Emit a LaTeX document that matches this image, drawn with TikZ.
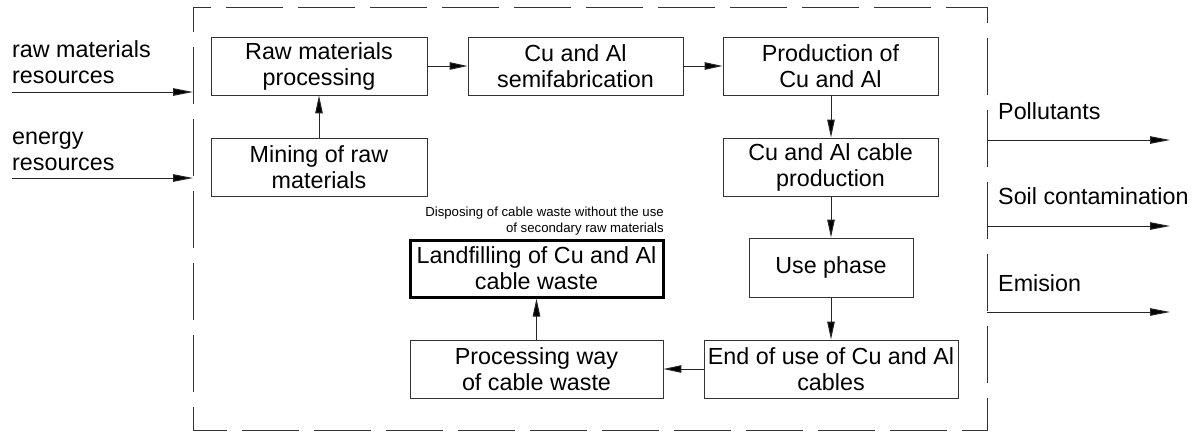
\documentclass[tikz,border=0pt]{standalone}
\usepackage{fontspec}
\setmainfont{Liberation Sans}
\usetikzlibrary{arrows.meta}
\newcommand{\bigfnt}{\fontsize{23.3}{26}\selectfont}
\newcommand{\smallfnt}{\fontsize{13.2}{16}\selectfont}
\begin{document}
\begin{tikzpicture}[x=1pt,y=-1pt,
  box/.style={draw=black!80, line width=0.9pt, inner sep=0pt, align=center, font=\bigfnt},
  thickbox/.style={box, draw=black, line width=3pt},
  lbl/.style={inner sep=0pt, anchor=base west, align=left, font=\bigfnt},
  conn/.style={draw=black!85, line width=1pt, -{Triangle[length=18pt,width=7.5pt,fill=black]}},
  bigconn/.style={conn, -{Triangle[length=20pt,width=7.5pt,fill=black]}},
  frame/.style={draw=black!80, line width=0.9pt, dash pattern=on 57pt off 15pt, dash phase=32pt}]
\useasboundingbox (0,0) rectangle (1203,432);
\draw[frame] (193,7) rectangle (987,430);

\node[box, minimum width=216pt, minimum height=58pt] (rmp) at (319,66) {Raw materials\\processing};
\node[box, minimum width=216pt, minimum height=58pt] (mine) at (319,167) {Mining of raw\\materials};
\node[box, minimum width=215pt, minimum height=58pt] (semi) at (575.5,66) {Cu and Al\\semifabrication};
\node[box, minimum width=215pt, minimum height=58pt] (prod) at (830.5,66) {Production of\\Cu and Al};
\node[box, minimum width=215pt, minimum height=58pt] (cable) at (830.5,167) {Cu and Al cable\\production};
\node[box, minimum width=164pt, minimum height=59pt] (use) at (831,267.5) {Use phase};
\node[box, minimum width=254pt, minimum height=58pt] (end) at (831,369) {End of use of Cu and Al\\cables};
\node[box, minimum width=253pt, minimum height=58pt] (proc) at (536.5,369) {Processing way\\of cable waste};
\node[thickbox, minimum width=253pt, minimum height=57pt] (land) at (536.5,268.5) {Landfilling of Cu and Al\\cable waste};
\node[inner sep=0pt, anchor=south east, align=right, font=\smallfnt] (note) at (664,235) {Disposing of cable waste without the use\\of secondary raw materials};

\draw[conn] (mine) -- (rmp);
\draw[conn] (rmp) -- (semi);
\draw[conn] (semi) -- (prod);
\draw[conn] (prod.south -| 831,0) -- (cable.north -| 831,0);
\draw[conn] (cable.south -| 831,0) -- (use.north -| 831,0);
\draw[conn] (use) -- (end);
\draw[conn] (end) -- (proc);
\draw[conn] (proc) -- (land);

\node[lbl] (in1) at (12,83) {raw materials\\resources};
\node[lbl] (in2) at (12,170) {energy\\resources};
\coordinate (i1s) at (12,92);
\coordinate (i1e) at (193,92);
\coordinate (i2s) at (12,178);
\coordinate (i2e) at (193,178);
\draw[bigconn] (i1s) -- (i1e);
\draw[bigconn] (i2s) -- (i2e);

\node[lbl] (out1) at (998,119) {Pollutants};
\node[lbl] (out2) at (998,204) {Soil contamination};
\node[lbl] (out3) at (998,291) {Emision};
\coordinate (o1s) at (987,140);
\coordinate (o1e) at (1170,140);
\coordinate (o2s) at (987,226);
\coordinate (o2e) at (1170,226);
\coordinate (o3s) at (987,312);
\coordinate (o3e) at (1170,312);
\draw[bigconn] (o1s) -- (o1e);
\draw[bigconn] (o2s) -- (o2e);
\draw[bigconn] (o3s) -- (o3e);
\end{tikzpicture}
\end{document}
